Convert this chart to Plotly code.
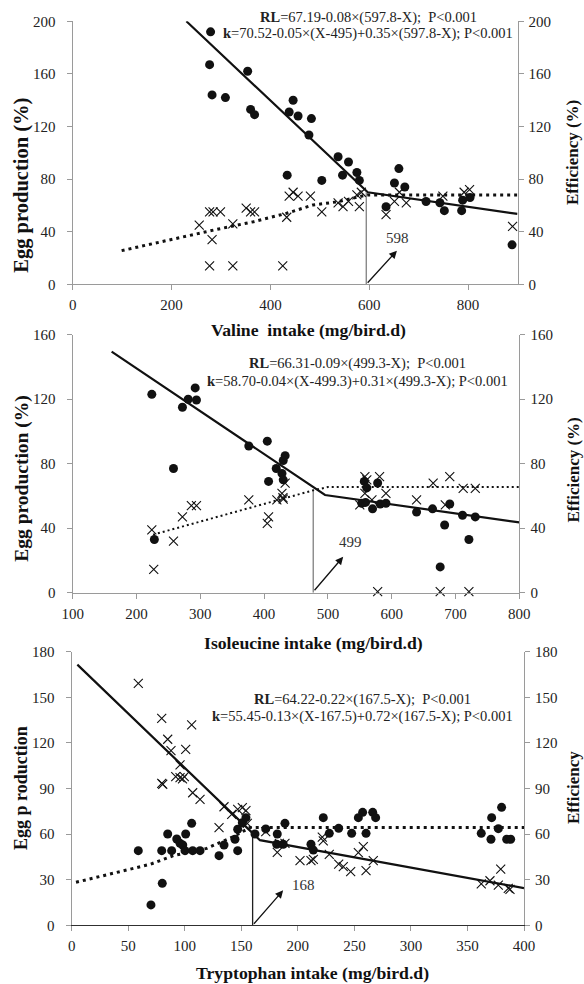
import plotly.graph_objects as go

# ---------------- DATA ----------------
# Panel 1 : Valine
val_circ_x = [279, 277, 282, 309, 354, 360, 368, 434, 438, 446, 456, 483, 478, 504, 537, 546, 558, 575, 580,
              634, 651, 660, 672, 715, 743, 752, 787, 789, 804, 889]
val_circ_y = [192, 167, 144, 142, 162, 133, 129, 83, 131, 140, 128, 126, 113.5, 79, 97, 83, 93, 85, 79,
              59, 77, 88, 74, 63, 62, 56, 56, 64, 66, 30]
val_cross_x = [256, 277, 284, 299, 282, 277, 324, 425, 324, 351, 360, 368, 433, 438, 446, 456, 481, 504, 537,
               547, 558, 575, 580, 584, 634, 651, 661, 675, 749, 792, 803, 890]
val_cross_y = [45, 55, 55, 55, 34, 14, 14, 14, 46, 58, 55, 55, 51, 67, 70, 67, 67, 55, 62,
               59, 63, 68, 59, 70, 53, 63, 70, 62, 67, 70, 72, 44]
val_fit_x = [230, 597, 900]
val_fit_y = [200, 70, 53.5]
val_dot_x = [99, 200, 286, 366, 433, 486, 537, 584, 597, 900]
val_dot_y = [25.6, 34.2, 41.3, 47.6, 54, 60.3, 62.8, 67, 68, 68]
val_bp = 594
val_bp_top = 70
val_arrow = [594, 0, 656, 25.6]   # tail x, tail y, head x, head y
val_label = ["598", 658, 35]

# Panel 2 : Isoleucine
ile_circ_x = [224, 228, 258, 272, 281, 292, 294, 376, 405, 407, 419, 428, 430, 430, 433,
              557, 561, 553, 559, 570, 578, 582, 591, 639, 664, 683, 691, 676, 711, 721, 731]
ile_circ_y = [123, 33, 77, 115, 120, 127, 119.5, 91, 94, 69, 77, 74, 70, 82, 85,
              69, 65, 55.5, 56, 52, 68, 55, 55.5, 50, 52, 42, 55, 16, 48, 33, 47]
ile_cross_x = [224, 227, 258, 272, 286, 294, 376, 405, 407, 420, 428, 429.5, 430, 433,
               558, 561, 558, 550, 569, 581, 591, 578, 639, 665, 684, 691, 712, 731, 676, 721]
ile_cross_y = [39, 14.5, 32, 47, 54, 54, 57.5, 43, 47, 57.5, 61.6, 59, 58, 68,
               72, 70, 61.6, 54.4, 57.5, 72, 61.6, 0.6, 57.5, 68, 54.4, 72, 64.7, 64.7, 0.6, 0.6]
ile_fit_x = [161, 495.5, 800]
ile_fit_y = [149.5, 60.6, 43.6]
ile_dot_x = [226, 477, 500, 800]
ile_dot_y = [36, 63.5, 65.5, 65.5]
ile_bp = 477
ile_bp_top = 63.5
ile_arrow = [477, 0.6, 524, 22.3]
ile_label = ["499", 535, 31.6]

# Panel 3 : Tryptophan
trp_circ_x = [58.9, 70.1, 79.6, 80.1, 84.9, 88.4, 92.9, 95.8, 98.2, 100.8, 100.2, 106.1, 107, 113.5, 130.3,
              134.7, 144.4, 146.8, 146.8, 150.9, 154.1, 162.1, 171.6, 181.8, 181.3, 187.1, 188.6, 211.6,
              213.7, 222.5, 227.8, 236.1, 247.6, 253.5, 257.3, 260.3, 266.2, 268.8, 362.2, 371.4, 370.8,
              377.3, 380.2, 384.7, 388.2]
trp_circ_y = [49.1, 13.4, 49.1, 27.6, 60.1, 49.1, 56.8, 53.9, 52.8, 60.1, 49.1, 67.1, 49.1, 49.1, 45.8,
              52.8, 56.6, 63.2, 49.1, 67.5, 70.8, 60.1, 63.4, 60.1, 53.3, 53.3, 67.1, 53.3,
              49.5, 70.8, 60.5, 63.8, 60.5, 70.8, 74.3, 60.5, 74.3, 70.8, 60.5, 70.8, 56.6,
              63.6, 77.6, 56.6, 56.6]
trp_cross_x = [58.9, 79.6, 79.6, 80.5, 84.9, 87.8, 92, 95.8, 98, 100.8, 106.1, 95.8, 99.6, 107, 113.5,
               130.3, 134.7, 141.5, 146.8, 150.9, 154.1, 155.3, 171.6, 181.8, 183.6, 188.6, 201.9, 211.6,
               213.7, 222.5, 221.6, 227.8, 236.1, 240.2, 246.7, 253.5, 257.9, 260.3, 266.7, 362.2, 369.9,
               377.3, 379.4, 386.1, 387.6]
trp_cross_y = [159.2, 136.2, 93.4, 92.8, 122.4, 114.9, 97.8, 97.1, 96.4, 115.8, 131.8, 105.5, 97.8, 87.2, 82.9,
               64.2, 78, 73, 76.3, 77.4, 75.4, 67.1, 61.6, 48, 53.9, 53.9, 42.5, 42.5,
               43.4, 55.5, 58, 46.7, 40.3, 38.6, 35.3, 47.8, 51.7, 35.9, 42.5, 27.2, 29.3,
               26.5, 37, 24.3, 23.7]
trp_fit_x = [5, 160.6, 166.5, 400]
trp_fit_y = [171.5, 60.5, 56, 24.5]
trp_dot_x = [3.8, 33.9, 69.2, 89.9, 119.4, 142.9, 157.7, 400]
trp_dot_y = [28.3, 33.5, 40.1, 45.8, 50.6, 58.3, 64.3, 64.3]
trp_bp = 160
trp_bp_top = 60.5
trp_arrow = [160, 0, 187, 23]
trp_label = ["168", 205, 26.5]

# Text
eq1 = ["<b>RL</b>=67.19<b>-</b>0.08×(597.8<b>-</b>X);  P&lt;0.001",
       "<b>k</b>=70.52-0.05×(X-495)+0.35×(597.8-X); P&lt;0.001"]
eq2 = ["<b>RL</b>=66.31-0.09×(499.3-X);  P&lt;0.001",
       "<b>k</b>=58.70-0.04×(X-499.3)+0.31×(499.3-X); P&lt;0.001"]
eq3 = ["<b>RL</b>=64.22-0.22×(167.5-X);  P&lt;0.001",
       "<b>k</b>=55.45-0.13×(X-167.5)+0.72×(167.5-X); P&lt;0.001"]
xtitles = ["Valine\u00a0 intake (mg/bird.d)", "Isoleucine intake (mg/bird.d)", "Tryptophan intake (mg/bird.d)"]
ltitles = ["Egg production (%)", "Egg production (%)", "Egg p roduction"]
rtitles = ["Efficiency (%)", "Efficiency (%)", "Efficiency"]

# ---------------- LAYOUT HELPERS ----------------
W, H = 584, 984
FONT = "Liberation Serif, Times New Roman, serif"
AXC = "#9a9a9a"


def fx(p):
    return p / W


def fy(p):
    return 1 - p / H


panels = [
    dict(box=(72.7, 517.5, 21.3, 284.3), xr=[0, 900], xd=200, yr=[0, 200], yd=40,
         circ=(val_circ_x, val_circ_y), cross=(val_cross_x, val_cross_y), fit=(val_fit_x, val_fit_y),
         dot=(val_dot_x, val_dot_y), bp=(val_bp, val_bp_top), arrow=val_arrow, label=val_label,
         eq=eq1, eqc=368, eqy=(17.5, 33.5), xt=(308.5, 330), lt=(21.7, 185, 20.5), rt=(572.5, 152.5),
         dotw=3, dash="3px,4px", vcol="#808080", botc=AXC),
    dict(box=(72.7, 519.3, 334.7, 592.7), xr=[100, 800], xd=100, yr=[0, 160], yd=40,
         circ=(ile_circ_x, ile_circ_y), cross=(ile_cross_x, ile_cross_y), fit=(ile_fit_x, ile_fit_y),
         dot=(ile_dot_x, ile_dot_y), bp=(ile_bp, ile_bp_top), arrow=ile_arrow, label=ile_label,
         eq=eq2, eqc=357.5, eqy=(363, 381), xt=(313.3, 642.5), lt=(21.7, 478, 19.5), rt=(572.5, 470),
         dotw=2, dash="2px,3px", vcol="#808080", botc=AXC),
    dict(box=(71.7, 524, 651.7, 925.3), xr=[0, 400], xd=50, yr=[0, 180], yd=30,
         circ=(trp_circ_x, trp_circ_y), cross=(trp_cross_x, trp_cross_y), fit=(trp_fit_x, trp_fit_y),
         dot=(trp_dot_x, trp_dot_y), bp=(trp_bp, trp_bp_top), arrow=trp_arrow, label=trp_label,
         eq=eq3, eqc=362.5, eqy=(699, 716.5), xt=(312.8, 973.3), lt=(21.7, 788.3, 18), rt=(573.5, 787.5),
         dotw=3, dash="3px,4px", vcol="#202020", botc="#303030"),
]

fig = go.Figure()
layout = dict(width=W, height=H, margin=dict(l=0, r=0, t=0, b=0, pad=0, autoexpand=False), showlegend=False,
              paper_bgcolor="white", plot_bgcolor="white",
              font=dict(family=FONT, size=15, color="#222"))
annotations = []

for i, p in enumerate(panels):
    n = i + 1
    xa = "x" if n == 1 else f"x{n}"
    yl_n = 2 * i + 1
    yr_n = 2 * i + 2
    yl = "y" if yl_n == 1 else f"y{yl_n}"
    yr = f"y{yr_n}"
    xk = "xaxis" if n == 1 else f"xaxis{n}"
    ylk = "yaxis" if yl_n == 1 else f"yaxis{yl_n}"
    yrk = f"yaxis{yr_n}"
    x0, x1, t0, t1 = p["box"]
    common = dict(showgrid=False, zeroline=False, showline=True, ticks="outside", ticklen=5,
                  tickwidth=1, tickcolor=AXC, linewidth=1.2, fixedrange=True, automargin=False,
                  tickfont=dict(family=FONT, size=15, color="#222"))
    layout[xk] = dict(domain=[fx(x0), fx(x1)], range=p["xr"], dtick=p["xd"], tick0=p["xr"][0],
                      anchor=yl, linecolor=p["botc"], ticklabelstandoff=2, **common)
    layout[ylk] = dict(domain=[fy(t1), fy(t0)], range=p["yr"], dtick=p["yd"], anchor=xa,
                       linecolor=AXC, ticklabelstandoff=8, **common)
    layout[yrk] = dict(domain=[fy(t1), fy(t0)], range=p["yr"], dtick=p["yd"], anchor=xa,
                       overlaying=yl, side="right", linecolor=AXC, ticklabelstandoff=2, **common)

    # fitted piecewise line
    fig.add_trace(go.Scatter(x=p["fit"][0], y=p["fit"][1], mode="lines", xaxis=xa, yaxis=yl,
                             line=dict(color="#111", width=2.2), hoverinfo="skip"))
    # dotted plateau line
    fig.add_trace(go.Scatter(x=p["dot"][0], y=p["dot"][1], mode="lines", xaxis=xa, yaxis=yr,
                             line=dict(color="#111", width=p["dotw"], dash=p["dash"]), hoverinfo="skip"))
    # vertical break-point line
    fig.add_trace(go.Scatter(x=[p["bp"][0], p["bp"][0]], y=[0, p["bp"][1]], mode="lines", xaxis=xa, yaxis=yl,
                             line=dict(color=p["vcol"], width=1.3), hoverinfo="skip"))
    # circles
    fig.add_trace(go.Scatter(x=p["circ"][0], y=p["circ"][1], mode="markers", xaxis=xa, yaxis=yl,
                             cliponaxis=False,
                             marker=dict(symbol="circle", size=9, color="#111", line=dict(width=0))))
    # crosses
    fig.add_trace(go.Scatter(x=p["cross"][0], y=p["cross"][1], mode="markers", xaxis=xa, yaxis=yr,
                             cliponaxis=False,
                             marker=dict(symbol="x-thin-open", size=9, color="#111",
                                         line=dict(width=1.1, color="#111"))))

    # arrow
    tx, ty, hx, hy = p["arrow"]
    annotations.append(dict(x=hx, y=hy, ax=tx, ay=ty, xref=xa, yref=yl, axref=xa, ayref=yl,
                            showarrow=True, arrowhead=2, arrowsize=1.2, arrowwidth=1.3,
                            arrowcolor="#111", text=""))
    lab, lx, ly = p["label"]
    annotations.append(dict(x=lx, y=ly, xref=xa, yref=yl, text=lab, showarrow=False,
                            font=dict(family=FONT, size=15, color="#333")))
    # equations
    for line, yy in zip(p["eq"], p["eqy"]):
        annotations.append(dict(x=fx(p["eqc"]), y=fy(yy), xref="paper", yref="paper", text=line,
                                showarrow=False, xanchor="center", yanchor="middle",
                                font=dict(family=FONT, size=14.5, color="#222")))
    # axis titles
    annotations.append(dict(x=fx(p["xt"][0]), y=fy(p["xt"][1]), xref="paper", yref="paper",
                            text=f"<b>{xtitles[i]}</b>", showarrow=False, xanchor="center", yanchor="middle",
                            font=dict(family=FONT, size=17.7, color="#111")))
    annotations.append(dict(x=fx(p["lt"][0]), y=fy(p["lt"][1]), xref="paper", yref="paper",
                            text=f"<b>{ltitles[i]}</b>", showarrow=False, textangle=-90,
                            xanchor="center", yanchor="middle",
                            font=dict(family=FONT, size=p["lt"][2], color="#111")))
    annotations.append(dict(x=fx(p["rt"][0]), y=fy(p["rt"][1]), xref="paper", yref="paper",
                            text=f"<b>{rtitles[i]}</b>", showarrow=False, textangle=-90,
                            xanchor="center", yanchor="middle",
                            font=dict(family=FONT, size=17, color="#111")))

layout["annotations"] = annotations
fig.update_layout(**layout)
fig.write_html("out.html", config={"displayModeBar": False},
               post_script="document.body.style.margin='0px';document.body.style.overflow='hidden';")
